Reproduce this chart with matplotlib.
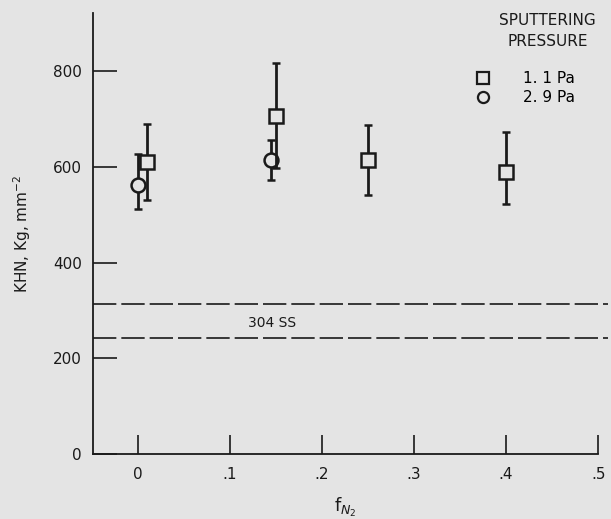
import matplotlib
matplotlib.use("Agg")
import matplotlib.pyplot as plt
from matplotlib.lines import Line2D

# f_N2 values and KHN hardness
f_low = [0.01, 0.15, 0.25, 0.40]        # 1.1 Pa
khn_low = [610, 707, 615, 590]
err_low_dn = [78, 110, 73, 68]
err_low_up = [80, 110, 72, 83]

f_high = [0.0, 0.145]                    # 2.9 Pa
khn_high = [562, 615]
err_high_dn = [50, 43]
err_high_up = [66, 42]

ss304 = [243, 313]                       # band for 304 stainless steel

xticks = [0, 0.1, 0.2, 0.3, 0.4, 0.5]
xticklabels = ["0", ".1", ".2", ".3", ".4", ".5"]
yticks = [0, 200, 400, 600, 800]

bg = "#e4e4e4"
ink = "#1a1a1a"
plt.rcParams['font.family'] = ['DejaVu Sans']

fig = plt.figure(figsize=(6.11, 5.19), dpi=100, facecolor=bg)
ax = fig.add_axes([0.152, 0.125, 0.827, 0.85], facecolor=bg)

for y in ss304:
    ln = ax.axhline(y, color=ink, lw=1.2, xmax=1.02, clip_on=False)
    ln.set_dashes((14, 3))
ax.text(0.146, 274, "304 SS", ha="center", va="center", fontsize=10, color=ink)

ax.errorbar(f_high, khn_high, yerr=[err_high_dn, err_high_up], fmt="o",
            ms=10, mfc=bg, mec=ink, mew=1.8, ecolor=ink, elinewidth=2,
            capsize=3, capthick=2, zorder=3)
ax.errorbar(f_low, khn_low, yerr=[err_low_dn, err_low_up], fmt="s",
            ms=10, mfc=bg, mec=ink, mew=1.8, ecolor=ink, elinewidth=2,
            capsize=3, capthick=2, zorder=4)

# legend: title as its own text, entries below with a wider gap
ax.text(0.90, 1.0, "SPUTTERING\nPRESSURE", transform=ax.transAxes,
        ha="center", va="top", multialignment="center", fontsize=11,
        color=ink, linespacing=1.5)
handles = [Line2D([], [], ls="none", marker="s", ms=8, mfc=bg, mec=ink, mew=1.6),
           Line2D([], [], ls="none", marker="o", ms=8, mfc=bg, mec=ink, mew=1.6)]
ax.legend(handles, ["1. 1 Pa", "2. 9 Pa"], loc="upper right",
          bbox_to_anchor=(0.969, 0.886), frameon=False, fontsize=11,
          handletextpad=1.6, labelspacing=0.3, borderpad=0)

ax.set_xlim(-0.0486, 0.5)
ax.set_ylim(0, 922)
ax.set_xticks(xticks)
ax.set_xticklabels(xticklabels)
ax.set_yticks(yticks)
ax.tick_params(direction="in", colors=ink, labelsize=11, width=1.2)
ax.tick_params(axis="x", length=14, pad=9)
ax.tick_params(axis="y", length=17, pad=8)
for s in ["top", "right"]:
    ax.spines[s].set_visible(False)
for s in ["left", "bottom"]:
    ax.spines[s].set_color(ink)
    ax.spines[s].set_linewidth(1.3)

ax.set_ylabel("KHN, Kg, mm$^{-2}$", fontsize=11, color=ink, labelpad=14)
ax.set_xlabel("f$_{N_2}$", fontsize=13, color=ink, labelpad=10)

fig.savefig("out.png", dpi=100, facecolor=bg)
